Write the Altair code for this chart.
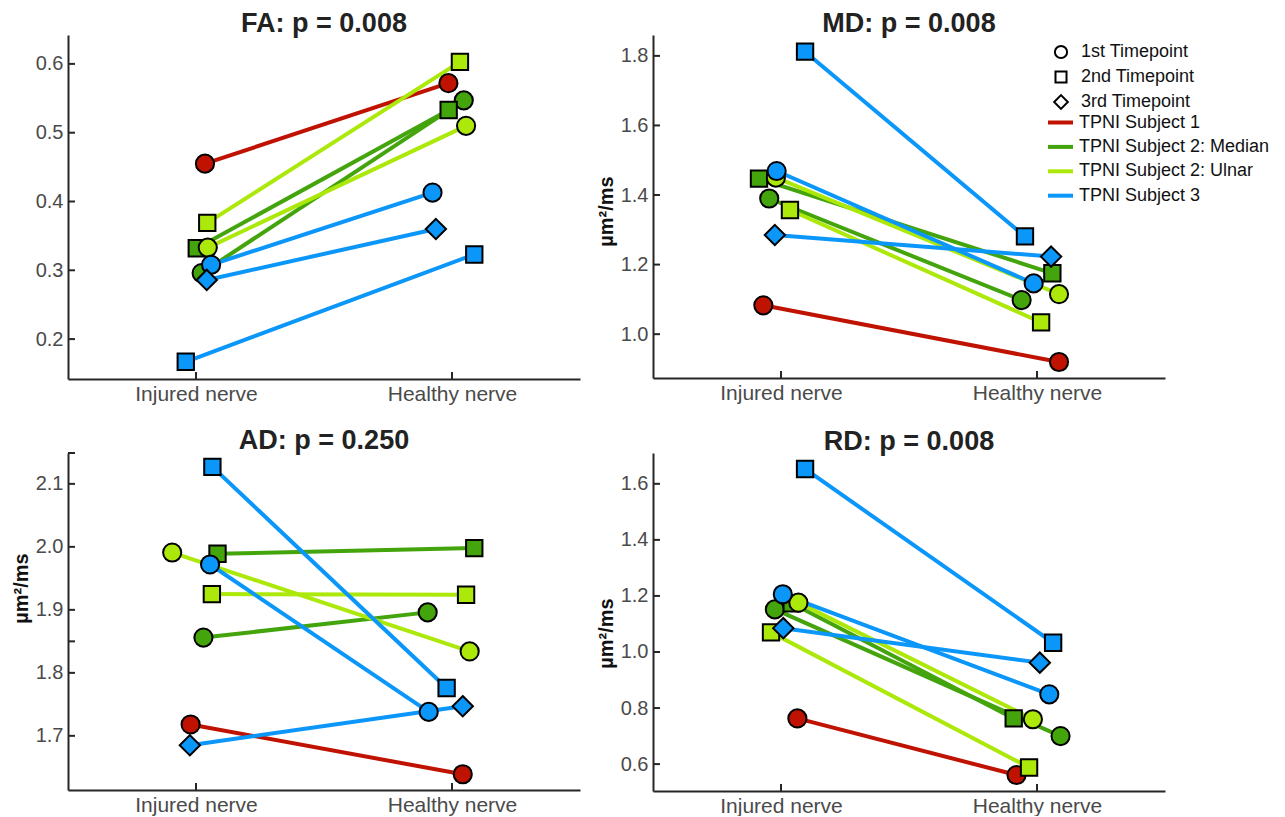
import altair as alt
import pandas as pd

# ---------------- data ----------------
subjects = ["TPNI Subject 1", "TPNI Subject 2: Median", "TPNI Subject 2: Ulnar", "TPNI Subject 3"]
subject_colors = ["#C01200", "#43A40C", "#ACE80A", "#0B96FA"]
timepoints = ["1st Timepoint", "2nd Timepoint", "3rd Timepoint"]
categories = ["Injured nerve", "Healthy nerve"]

# one entry per connected pair (injured -> healthy)
pair_subject = [subjects[0], subjects[1], subjects[1], subjects[2], subjects[2], subjects[3], subjects[3], subjects[3]]
pair_timepoint = [timepoints[0], timepoints[0], timepoints[1], timepoints[0], timepoints[1], timepoints[0], timepoints[1], timepoints[2]]

# FA
fa_injured_x = [1.035, 1.022, 1.003, 1.046, 1.044, 1.059, 0.960, 1.042]
fa_injured_y = [0.455, 0.296, 0.332, 0.333, 0.369, 0.308, 0.167, 0.286]
fa_healthy_x = [1.986, 2.046, 1.987, 2.055, 2.031, 1.924, 2.087, 1.937]
fa_healthy_y = [0.572, 0.547, 0.533, 0.510, 0.603, 0.413, 0.323, 0.360]

# MD
md_injured_x = [0.931, 0.954, 0.914, 0.980, 1.035, 0.983, 1.094, 0.976]
md_injured_y = [1.083, 1.390, 1.447, 1.450, 1.357, 1.469, 1.812, 1.285]
md_healthy_x = [2.086, 1.940, 2.060, 2.086, 2.016, 1.987, 1.953, 2.055]
md_healthy_y = [0.920, 1.098, 1.175, 1.115, 1.034, 1.146, 1.281, 1.223]

# AD
ad_injured_x = [0.979, 1.029, 1.084, 0.907, 1.062, 1.055, 1.064, 0.976]
ad_injured_y = [1.718, 1.856, 1.989, 1.991, 1.925, 1.972, 2.127, 1.685]
ad_healthy_x = [2.042, 1.905, 2.087, 2.069, 2.055, 1.909, 1.979, 2.042]
ad_healthy_y = [1.639, 1.896, 1.998, 1.834, 1.924, 1.738, 1.776, 1.747]

# RD
rd_injured_x = [1.064, 0.976, 1.042, 1.068, 0.961, 1.007, 1.094, 1.009]
rd_injured_y = [0.763, 1.152, 1.174, 1.176, 1.070, 1.206, 1.653, 1.085]
rd_healthy_x = [1.920, 2.092, 1.909, 1.984, 1.969, 2.048, 2.063, 2.011]
rd_healthy_y = [0.561, 0.700, 0.763, 0.760, 0.588, 0.849, 1.033, 0.962]

fa_ticks = [0.2, 0.3, 0.4, 0.5, 0.6]
md_ticks = [1.0, 1.2, 1.4, 1.6, 1.8]
ad_ticks = [1.7, 1.8, 1.9, 2.0, 2.1]
ad_extra_ticks = [1.85, 2.149]
rd_ticks = [0.6, 0.8, 1.0, 1.2, 1.4, 1.6]

# marker shapes: circle, square, diamond
timepoint_shapes = ["circle",
                    "M-0.9,-0.9L0.9,-0.9L0.9,0.9L-0.9,0.9Z",
                    "M0,-1.12L1.12,0L0,1.12L-1.12,0Z"]

FONT = "Liberation Sans"
AXIS_COLOR = "#262626"
W = 512


def long_table(ix, iy, hx, hy):
    rows = []
    for i in range(len(pair_subject)):
        rows.append(dict(pair=i, subject=pair_subject[i], timepoint=pair_timepoint[i],
                         side=categories[0], x=ix[i], y=iy[i]))
        rows.append(dict(pair=i, subject=pair_subject[i], timepoint=pair_timepoint[i],
                         side=categories[1], x=hx[i], y=hy[i]))
    return pd.DataFrame(rows)


color_scale = alt.Scale(domain=subjects, range=subject_colors)
shape_scale = alt.Scale(domain=timepoints, range=timepoint_shapes)
label_expr = f"datum.value == 1 ? '{categories[0]}' : '{categories[1]}'"


def panel(title, ytitle, ydomain, yticks, tickmarks, height, ix, iy, hx, hy,
          title_y=None, legend=False):
    df = long_table(ix, iy, hx, hy)
    xscale = alt.Scale(domain=[0.5, 2.5], nice=False, zero=False)
    yscale = alt.Scale(domain=ydomain, nice=False, zero=False)
    yaxis_kw = dict(values=yticks, format=".1f", title=ytitle if ytitle else "")
    if title_y is not None:
        yaxis_kw["titleY"] = title_y
    x_enc = alt.X("x:Q", scale=xscale,
                  axis=alt.Axis(values=[1, 2], labelExpr=label_expr, title=""))
    y_enc = alt.Y("y:Q", scale=yscale, axis=alt.Axis(**yaxis_kw))

    if legend:
        stroke_legend = alt.Legend(title=None, orient="none", legendX=393, legendY=73,
                                   symbolType="stroke", symbolSize=625, symbolStrokeWidth=4,
                                   labelFont=FONT, labelFontSize=18, labelColor="#111",
                                   labelOffset=4, rowPadding=0.4, padding=0, labelLimit=400)
        shape_legend = alt.Legend(title=None, orient="none", legendX=399, legendY=8,
                                  symbolSize=150, symbolFillColor="white",
                                  symbolStrokeColor="black", symbolStrokeWidth=2,
                                  labelFont=FONT, labelFontSize=18, labelColor="#111",
                                  labelOffset=11, rowPadding=4, padding=0, labelLimit=400)
    else:
        stroke_legend = None
        shape_legend = None

    lines = alt.Chart(df).mark_line(strokeWidth=4).encode(
        x=x_enc, y=y_enc,
        stroke=alt.Stroke("subject:N", scale=color_scale, legend=stroke_legend),
        detail="pair:N",
    )
    points = alt.Chart(df).mark_point(filled=True, size=330, stroke="black",
                                      strokeWidth=2, opacity=1).encode(
        x=x_enc, y=y_enc,
        fill=alt.Fill("subject:N", scale=color_scale, legend=None),
        shape=alt.Shape("timepoint:N", scale=shape_scale, legend=shape_legend),
    )
    ytick_df = pd.DataFrame({"y": tickmarks})
    yticks_layer = alt.Chart(ytick_df).mark_rule(color=AXIS_COLOR, strokeWidth=2).encode(
        y=y_enc, x=alt.value(0), x2=alt.value(7))
    xtick_df = pd.DataFrame({"x": [1, 2]})
    xticks_layer = alt.Chart(xtick_df).mark_rule(color=AXIS_COLOR, strokeWidth=2).encode(
        x=x_enc, y=alt.value(height), y2=alt.value(height - 7))

    return alt.layer(lines, points, yticks_layer, xticks_layer).properties(
        width=W, height=height,
        title=alt.TitleParams(text=title, anchor="middle", font=FONT, fontSize=27,
                              fontWeight="bold", color="#222", offset=-3),
    )


fa = panel("FA: p = 0.008", None, [0.142, 0.642], fa_ticks, fa_ticks, 344,
           fa_injured_x, fa_injured_y, fa_healthy_x, fa_healthy_y)
md = panel("MD: p = 0.008", "µm²/ms", [0.874, 1.86], md_ticks, md_ticks, 343,
           md_injured_x, md_injured_y, md_healthy_x, md_healthy_y, title_y=176, legend=True)
ad = panel("AD: p = 0.250", "µm²/ms", [1.614, 2.149], ad_ticks, ad_ticks + ad_extra_ticks, 337,
           ad_injured_x, ad_injured_y, ad_healthy_x, ad_healthy_y, title_y=135)
rd = panel("RD: p = 0.008", "µm²/ms", [0.504, 1.71], rd_ticks, rd_ticks, 338,
           rd_injured_x, rd_injured_y, rd_healthy_x, rd_healthy_y, title_y=180)

chart = alt.concat(fa, md, ad, rd, columns=2, spacing={"row": 74, "column": 73},
                   bounds="flush").resolve_scale(
    stroke="independent", fill="independent", shape="independent",
).properties(
    padding={"left": 3, "top": 2, "right": 5, "bottom": 0},
).configure_view(stroke=None).configure_axis(
    domainColor=AXIS_COLOR, domainWidth=2, ticks=False, grid=False,
    labelFont=FONT, labelFontSize=20, labelColor="#4a4a4a", labelPadding=5,
    titleFont=FONT, titleFontSize=20, titleFontWeight="bold", titleColor="#111",
    titlePadding=4,
).configure_axisX(labelFontSize=21, labelPadding=4)

chart.save("out.html", embed_options={"renderer": "svg", "actions": False})
